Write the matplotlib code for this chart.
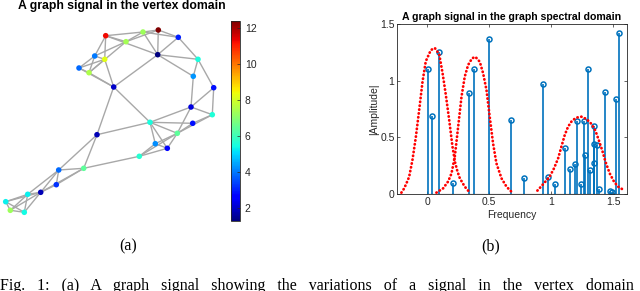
import matplotlib
matplotlib.use("Agg")
import matplotlib.pyplot as plt
import numpy as np
from matplotlib import cm
from matplotlib.colors import Normalize

plt.rcParams['font.family'] = ['Liberation Sans', 'DejaVu Sans']

# ---------------- data: graph (vertex domain) ----------------
node_x = [105.7, 143.0, 158.3, 178.3, 126.0, 94.7, 104.7, 157.7, 198.0, 79.0,
          89.0, 193.3, 213.7, 113.7, 191.0, 212.3, 150.0, 192.7, 177.3, 97.0,
          155.3, 167.3, 139.3, 83.7, 58.7, 56.3, 40.7, 27.7, 5.7, 10.3, 24.3]
node_y = [35.7, 32.0, 30.0, 37.3, 41.7, 56.0, 59.3, 54.7, 59.3, 68.0,
          72.7, 76.3, 87.7, 87.0, 107.0, 114.7, 122.3, 123.3, 133.3, 134.7,
          143.7, 148.3, 156.3, 168.3, 170.0, 184.7, 192.3, 194.3, 201.7, 210.3, 212.3]
node_val = [11.3, 7.3, 12.4, 3.0, 7.4, 4.0, 8.2, 1.26, 5.5, 3.8,
            7.5, 4.3, 2.8, 2.0, 2.2, 5.6, 5.5, 2.8, 6.4, 1.8,
            4.2, 2.5, 5.7, 6.4, 3.8, 3.2, 1.8, 5.3, 5.3, 7.3, 5.4]
edges = [(1, 2), (2, 3), (3, 4), (1, 5), (1, 8), (5, 2), (5, 3), (2, 4), (3, 8), (2, 8),
         (4, 8), (1, 6), (1, 7), (5, 6), (5, 11), (6, 7), (6, 10), (6, 11), (7, 11), (10, 11),
         (7, 10), (10, 14), (11, 14), (7, 14), (8, 14), (8, 9), (8, 12), (4, 9), (9, 12), (9, 13),
         (12, 15), (13, 15), (13, 16), (14, 17), (14, 20), (20, 17), (20, 24), (20, 25), (17, 15),
         (17, 18), (17, 19), (17, 21), (17, 22), (15, 19), (15, 16), (18, 16), (19, 16), (19, 18),
         (19, 21), (19, 22), (19, 23), (21, 22), (21, 23), (22, 23), (23, 24), (24, 25), (24, 26),
         (24, 27), (25, 26), (25, 27), (25, 28), (26, 27), (27, 28), (27, 29), (27, 30), (27, 31),
         (28, 29), (28, 30), (28, 31), (29, 30), (29, 31), (30, 31)]
cbar_ticks = [2, 4, 6, 8, 10, 12]
cbar_min, cbar_max = 1.26, 12.41

# ---------------- data: spectral domain ----------------
freq = [0.005, 0.04, 0.094, 0.209, 0.335, 0.381, 0.499, 0.673, 0.778, 0.931,
        0.977, 1.030, 1.113, 1.151, 1.189, 1.207, 1.240, 1.266, 1.269, 1.299,
        1.312, 1.342, 1.342, 1.347, 1.368, 1.384, 1.435, 1.470, 1.489, 1.524, 1.548]
amp = [1.10, 0.69, 1.25, 0.094, 0.89, 1.106, 1.37, 0.653, 0.138, 0.968,
       0.15, 0.088, 0.406, 0.22, 0.262, 0.644, 0.091, 0.644, 0.341, 1.106,
       0.215, 0.441, 0.276, 0.597, 0.429, 0.044, 0.90, 0.024, 0.02, 0.835, 1.418]

k1_f = [-0.207, -0.19, -0.172, -0.145, -0.118, -0.091, -0.064, -0.037, -0.011, 0.03,
        0.062, 0.097, 0.124, 0.150, 0.177, 0.204, 0.225, 0.244, 0.263, 0.284, 0.303, 0.33, 0.35]
k1_a = [0.012, 0.04, 0.08, 0.15, 0.30, 0.50, 0.74, 0.99, 1.17, 1.27,
        1.288, 1.235, 1.07, 0.88, 0.66, 0.42, 0.28, 0.20, 0.14, 0.10, 0.065, 0.03, 0.012]
k2_f = [0.075, 0.129, 0.169, 0.196, 0.223, 0.25, 0.277, 0.303, 0.33, 0.362, 0.389,
        0.424, 0.451, 0.478, 0.504, 0.531, 0.558, 0.599, 0.639, 0.679, 0.70]
k2_a = [0.012, 0.05, 0.11, 0.18, 0.33, 0.594, 0.859, 1.035, 1.138, 1.197, 1.21,
        1.167, 1.065, 0.918, 0.682, 0.447, 0.271, 0.138, 0.065, 0.02, 0.012]
k3_f = [0.888, 0.921, 0.953, 0.987, 1.022, 1.055, 1.081, 1.108, 1.135, 1.167, 1.202,
        1.242, 1.283, 1.323, 1.355, 1.382, 1.409, 1.436, 1.47, 1.505, 1.537, 1.591]
k3_a = [0.03, 0.07, 0.11, 0.153, 0.227, 0.315, 0.417, 0.52, 0.594, 0.647, 0.674,
        0.682, 0.662, 0.618, 0.559, 0.476, 0.388, 0.285, 0.182, 0.109, 0.065, 0.03]

xticks = [0, 0.5, 1, 1.5]
xtick_labels = ["0", "0.5", "1", "1.5"]
yticks = [0, 0.5, 1, 1.5]
ytick_labels = ["0", "0.5", "1", "1.5"]
caption_words = ["Fig.", "1:", "(a)", "A", "graph", "signal", "showing", "the",
                 "variations", "of", "a", "signal", "in", "the", "vertex", "domain"]

# ---------------- figure ----------------
W, H = 640, 291
fig = plt.figure(figsize=(W / 100, H / 100), dpi=100)

dark = '#262626'
axg = fig.add_axes([0, 0, 230 / W, 1])
axg.set_xlim(0, 230)
axg.set_ylim(H, 0)
axg.axis('off')
norm = Normalize(vmin=cbar_min, vmax=cbar_max)
cmap = plt.get_cmap('jet')
for a, b in edges:
    axg.plot([node_x[a - 1], node_x[b - 1]], [node_y[a - 1], node_y[b - 1]],
             color='#a8a8a8', lw=1.0, zorder=1, solid_capstyle='round')
axg.scatter(node_x, node_y, c=node_val, cmap=cmap, norm=norm, s=16, zorder=3, linewidths=0)

fig.text(18.3 / W, 1 - 8.5 / H, "A graph signal in the vertex domain", fontsize=8.8,
         fontweight='bold', ha='left', va='baseline', color='black')

cax = fig.add_axes([230.7 / W, 1 - 221 / H, 9.3 / W, 200 / H])
sm = cm.ScalarMappable(norm=norm, cmap=cmap)
cb = fig.colorbar(sm, cax=cax, ticks=cbar_ticks)
cb.ax.tick_params(labelsize=7.5, colors=dark, direction='in', length=2, width=0.5)
cb.outline.set_linewidth(0.6)
cb.outline.set_edgecolor(dark)

ax = fig.add_axes([397.3 / W, 1 - 194 / H, (626.7 - 397.3) / W, 170 / H])
blue = '#0072BD'
ml, sl, bl = ax.stem(freq, amp, linefmt='-', markerfmt='o', basefmt='-')
plt.setp(sl, color=blue, linewidth=1.2)
plt.setp(ml, markerfacecolor='none', markeredgecolor=blue, markersize=3.6, markeredgewidth=1.1)
plt.setp(bl, color='black', linewidth=0.8)
for kf, ka in [(k1_f, k1_a), (k2_f, k2_a), (k3_f, k3_a)]:
    ax.plot(kf, ka, color='red', lw=2.0, linestyle=(0, (0.1, 1.3)),
            dash_capstyle='round', zorder=5)
ax.set_xlim(-0.24, 1.607)
ax.set_ylim(0, 1.5)
ax.set_xticks(xticks)
ax.set_xticklabels(xtick_labels)
ax.set_yticks(yticks)
ax.set_yticklabels(ytick_labels)
ax.tick_params(direction='in', length=2.5, width=0.5, labelsize=7.5, colors=dark,
               top=True, right=True, pad=2)
for s in ax.spines.values():
    s.set_linewidth(0.6)
    s.set_color(dark)
ax.set_title("A graph signal in the graph spectral domain", fontsize=7.6,
             fontweight='bold', pad=3)
ax.set_xlabel("Frequency", fontsize=7.5, color=dark, labelpad=2)
ax.set_ylabel("|Amplitude|", fontsize=7.5, color=dark, labelpad=1)

fig.text(128 / W, 1 - 246 / H, "(a)", fontsize=11.5, family=['Liberation Serif'],
         ha='center', va='center')
fig.text(491 / W, 1 - 246 / H, "(b)", fontsize=11.5, family=['Liberation Serif'],
         ha='center', va='center')
fig.text(0.0, 1 - 289.5 / H, "   ".join(caption_words),
         fontsize=11.5, family=['Liberation Serif'], ha='left', va='baseline')

fig.savefig("out.png", dpi=100)
